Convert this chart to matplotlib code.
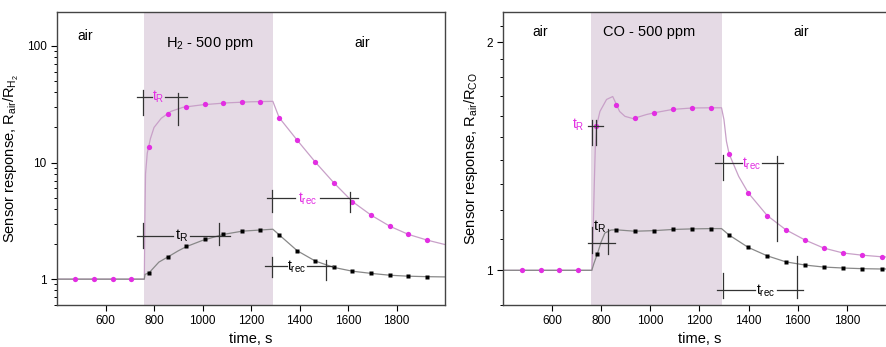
import numpy as np
import matplotlib
matplotlib.use("Agg")
import matplotlib.pyplot as plt
from matplotlib.ticker import FixedLocator, NullFormatter

plt.rcParams['font.family'] = ['Liberation Sans', 'DejaVu Sans']
plt.rcParams['mathtext.fontset'] = 'custom'
plt.rcParams['mathtext.rm'] = 'Liberation Sans'
plt.rcParams['mathtext.it'] = 'Liberation Sans'

# gas exposure window (s)
gas_on = 760
gas_off = 1290

# ---- H2 panel ----
h2_mag_t = [474, 554, 630, 705, 779, 857, 933, 1010, 1086, 1164, 1238,
            1316, 1391, 1465, 1542, 1618, 1696, 1773, 1849, 1927]
h2_mag_v = [1, 1, 1, 1, 13.6, 25.9, 30.2, 31.6, 32.7, 32.9, 33.1,
            24.3, 15.5, 10.1, 6.69, 4.63, 3.53, 2.84, 2.42, 2.16]
h2_blk_t = [779, 857, 933, 1010, 1086, 1164, 1238,
            1316, 1391, 1465, 1542, 1618, 1696, 1773, 1849, 1927]
h2_blk_v = [1.12, 1.54, 1.91, 2.2, 2.42, 2.58, 2.65,
            2.40, 1.75, 1.43, 1.26, 1.17, 1.12, 1.08, 1.06, 1.05]

h2_mag_curve_t = [400, 760, 762, 765, 772, 785, 800, 830, 870, 920, 1000,
                  1100, 1200, 1290, 1316, 1391, 1465, 1542, 1618, 1696,
                  1773, 1849, 1927, 2000]
h2_mag_curve_v = [1, 1, 3, 8, 12, 16, 20, 24, 27.5, 29.8, 31.3,
                  32.5, 33.2, 33.5, 24.3, 15.5, 10.1, 6.69, 4.63, 3.53,
                  2.84, 2.42, 2.16, 1.98]
h2_blk_curve_t = [400, 760, 763, 779, 820, 857, 900, 933, 1000, 1086, 1164,
                  1290, 1316, 1391, 1465, 1542, 1618, 1696, 1773, 1849,
                  1927, 2000]
h2_blk_curve_v = [1, 1, 1.1, 1.13, 1.4, 1.55, 1.75, 1.9, 2.15, 2.42, 2.58,
                  2.68, 2.40, 1.75, 1.43, 1.26, 1.17, 1.12, 1.08, 1.06,
                  1.05, 1.045]

# ---- CO panel ----
co_mag_t = [476, 553, 629, 707, 781, 860, 937, 1015, 1091, 1169, 1246,
            1321, 1399, 1476, 1552, 1631, 1706, 1785, 1863, 1942]
co_mag_v = [1, 1, 1, 1, 1.549, 1.65, 1.589, 1.613, 1.630, 1.638, 1.638,
            1.424, 1.265, 1.181, 1.131, 1.096, 1.070, 1.054, 1.047, 1.042]
co_blk_t = [784, 860, 937, 1015, 1091, 1169, 1246,
            1321, 1399, 1476, 1552, 1631, 1706, 1785, 1863, 1942]
co_blk_v = [1.05, 1.131, 1.126, 1.128, 1.132, 1.134, 1.135,
            1.113, 1.072, 1.045, 1.026, 1.016, 1.010, 1.007, 1.005, 1.004]

co_mag_curve_t = [400, 762, 766, 772, 776, 781, 795, 822, 847, 860, 875,
                  897, 930, 985, 1015, 1091, 1169, 1246, 1290, 1300, 1310,
                  1321, 1360, 1399, 1476, 1552, 1631, 1706, 1785, 1863,
                  1942, 2000]
co_mag_curve_v = [1, 1, 1.08, 1.3, 1.45, 1.549, 1.62, 1.68, 1.695, 1.66, 1.62,
                  1.596, 1.585, 1.605, 1.613, 1.630, 1.637, 1.638, 1.638, 1.58, 1.48,
                  1.424, 1.33, 1.265, 1.181, 1.131, 1.096, 1.070, 1.054, 1.047,
                  1.042, 1.04]
co_blk_curve_t = [400, 762, 770, 784, 800, 815, 840, 860, 937, 1015, 1091,
                  1169, 1246, 1290, 1321, 1399, 1476, 1552, 1631, 1706,
                  1785, 1863, 1942, 2000]
co_blk_curve_v = [1, 1, 1.02, 1.05, 1.09, 1.12, 1.13, 1.131, 1.126, 1.128, 1.132,
                  1.134, 1.135, 1.135, 1.113, 1.072, 1.045, 1.026, 1.016, 1.010,
                  1.007, 1.005, 1.004, 1.004]

x_ticks = [600, 800, 1000, 1200, 1400, 1600, 1800]

MAG = '#e22ee2'
SHADE = '#e5dae5'


def draw_cross(ax, x0, x1, y, gap, bars, color='#333333'):
    # horizontal line with a gap for the label, plus vertical end bars
    ax.plot([x0, gap[0]], [y, y], color=color, lw=0.9)
    ax.plot([gap[1], x1], [y, y], color=color, lw=0.9)
    for bx, by0, by1 in bars:
        ax.plot([bx, bx], [by0, by1], color=color, lw=0.9)


def style_axis(ax):
    ax.set_xlim(400, 2000)
    ax.set_xticks(x_ticks)
    ax.tick_params(axis='x', direction='out', length=4, width=0.8,
                   labelsize=8.5, pad=3)
    ax.tick_params(axis='y', which='major', direction='out', length=4,
                   width=0.8, labelsize=8.5)
    ax.tick_params(axis='y', which='minor', direction='out', length=2.5,
                   width=0.7)
    for s in ax.spines.values():
        s.set_color('#444444')
        s.set_linewidth(1.0)
    ax.set_xlabel('time, s', fontsize=10.5, labelpad=4)


fig = plt.figure(figsize=(8.87, 3.47), dpi=100)

# ---------- left: H2 ----------
ax1 = fig.add_axes([0.0643, 0.121, 0.4374, 0.844])
ax1.axvspan(gas_on, gas_off, color=SHADE, lw=0)
ax1.plot(h2_mag_curve_t, h2_mag_curve_v, color='#c8a0c8', lw=0.9)
ax1.plot(h2_blk_curve_t, h2_blk_curve_v, color='#888888', lw=0.9)
ax1.plot(h2_mag_t, h2_mag_v, 'o', color=MAG, ms=3.8, mec='none')
ax1.plot(h2_blk_t, h2_blk_v, 's', color='black', ms=3.0, mec='none')
ax1.set_yscale('log')
ax1.set_ylim(0.6, 195)
ax1.set_yticks([1, 10, 100], labels=['1', '10', '100'])
style_axis(ax1)
ax1.set_ylabel(r'Sensor response, R$_{\mathregular{air}}$/R$_{\mathregular{H_2}}$',
               fontsize=10.5, labelpad=4)

ax1.text(515, 122, 'air', fontsize=10, ha='center', va='center')
ax1.text(1030, 105, r'H$_{\mathregular{2}}$ - 500 ppm', fontsize=10.5,
         ha='center', va='center')
ax1.text(1660, 105, 'air', fontsize=10, ha='center', va='center')

draw_cross(ax1, 730, 936, 36.5, (792, 845),
           [(756, 25.4, 41.6), (900, 20.9, 39.3)])
ax1.text(818, 36.5, r'$\mathregular{t_R}$', color=MAG, fontsize=10,
         ha='center', va='center')
draw_cross(ax1, 1265, 1643, 4.98, (1381, 1485),
           [(1285, 3.77, 5.79), (1608, 3.77, 5.6)])
ax1.text(1433, 4.9, r'$\mathregular{t_{rec}}$', color=MAG, fontsize=10,
         ha='center', va='center')
draw_cross(ax1, 729, 1113, 2.34, (880, 950),
           [(756, 1.84, 3.02), (1068, 1.95, 3.02)])
ax1.text(915, 2.34, r'$\mathregular{t_R}$', color='black', fontsize=10.5,
         ha='center', va='center')
draw_cross(ax1, 1258, 1539, 1.30, (1347, 1430),
           [(1285, 1.05, 1.55), (1509, 0.98, 1.45)])
ax1.text(1388, 1.28, r'$\mathregular{t_{rec}}$', color='black', fontsize=10,
         ha='center', va='center')

# ---------- right: CO ----------
ax2 = fig.add_axes([0.567, 0.121, 0.443, 0.844])
ax2.axvspan(gas_on, gas_off, color=SHADE, lw=0)
ax2.plot(co_mag_curve_t, co_mag_curve_v, color='#c8a0c8', lw=0.9)
ax2.plot(co_blk_curve_t, co_blk_curve_v, color='#888888', lw=0.9)
ax2.plot(co_mag_t, co_mag_v, 'o', color=MAG, ms=3.8, mec='none')
ax2.plot(co_blk_t, co_blk_v, 's', color='black', ms=3.0, mec='none')
ax2.set_yscale('log')
ax2.set_ylim(0.9, 2.19)
ax2.yaxis.set_major_locator(FixedLocator([1, 2]))
ax2.yaxis.set_minor_locator(FixedLocator([0.9, 1.1, 1.2, 1.3, 1.4, 1.5,
                                          1.6, 1.7, 1.8, 1.9, 2.1]))
ax2.yaxis.set_minor_formatter(NullFormatter())
ax2.set_yticklabels(['1', '2'])
style_axis(ax2)
ax2.set_ylabel(r'Sensor response, R$_{\mathregular{air}}$/R$_{\mathregular{CO}}$',
               fontsize=10.5, labelpad=4)

ax2.text(550, 2.06, 'air', fontsize=10, ha='center', va='center')
ax2.text(995, 2.06, 'CO - 500 ppm', fontsize=10.5, ha='center', va='center')
ax2.text(1615, 2.06, 'air', fontsize=10, ha='center', va='center')

draw_cross(ax2, 747, 808, 1.549, (747, 747),
           [(761, 1.464, 1.58), (781, 1.464, 1.58)])
ax2.text(705, 1.555, r'$\mathregular{t_R}$', color=MAG, fontsize=10,
         ha='center', va='center')
draw_cross(ax2, 1263, 1541, 1.384, (1372, 1453),
           [(1297, 1.315, 1.42), (1514, 1.094, 1.413)])
ax2.text(1412, 1.38, r'$\mathregular{t_{rec}}$', color=MAG, fontsize=10,
         ha='center', va='center')
draw_cross(ax2, 747, 856, 1.088, (747, 747),
           [(761, 1.055, 1.139), (829, 1.05, 1.134)])
ax2.text(795, 1.14, r'$\mathregular{t_R}$', color='black', fontsize=10.5,
         ha='center', va='center')
draw_cross(ax2, 1270, 1620, 0.943, (1426, 1514),
           [(1297, 0.92, 0.993), (1596, 0.92, 1.045)])
ax2.text(1470, 0.94, r'$\mathregular{t_{rec}}$', color='black', fontsize=10,
         ha='center', va='center')

fig.savefig('out.png', dpi=100)
